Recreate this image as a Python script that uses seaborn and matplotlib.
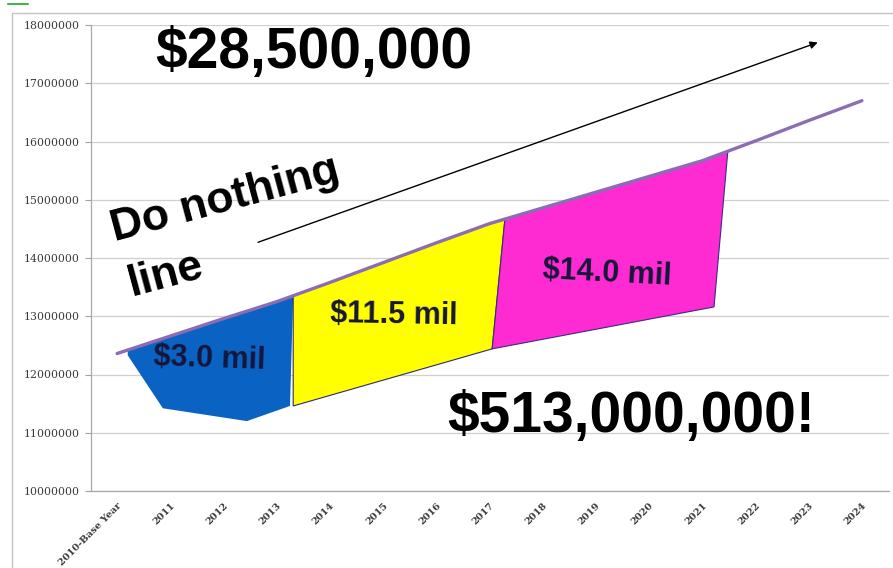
import numpy as np
import pandas as pd
import matplotlib
matplotlib.use("Agg")
import matplotlib.pyplot as plt
import matplotlib.transforms as mtransforms
import seaborn as sns
from matplotlib.patches import Polygon
from matplotlib.lines import Line2D

# ---------------- data ----------------
years = ["2010-Base Year", "2011", "2012", "2013", "2014", "2015", "2016", "2017",
         "2018", "2019", "2020", "2021", "2022", "2023", "2024"]
do_nothing = [12360000, 12660000, 12960000, 13250000, 13580000, 13920000, 14260000,
              14590000, 14860000, 15130000, 15400000, 15670000, 16010000, 16360000,
              16700000]
y_ticks = [10000000, 11000000, 12000000, 13000000, 14000000, 15000000,
           16000000, 17000000, 18000000]

# phase areas: lower boundary points (category position, value); upper edge follows the line
phase1_bottom_x = [0.20, 0.86, 2.44, 3.25]
phase1_bottom_y = [12330000, 11420000, 11200000, 11460000]
phase1_top = [0.20, 3.31]
phase2_bottom_x = [3.31, 7.05]
phase2_bottom_y = [11460000, 12440000]
phase2_top = [3.31, 7.29]
phase3_bottom_x = [7.05, 11.22]
phase3_bottom_y = [12440000, 13160000]
phase3_top = [7.29, 11.48]
phase_labels = ["$3.0 mil", "$11.5 mil", "$14.0 mil"]
phase_colors = ["#0A63C2", "#FFFF00", "#FF2BD2"]

# ---------------- figure ----------------
sns.set_theme(style="white")
plt.rcParams["font.family"] = ["Liberation Sans", "DejaVu Sans"]

W, H = 893, 568
fig = plt.figure(figsize=(W / 100, H / 100), dpi=100)
fig.patch.set_facecolor("white")
ax = fig.add_axes([90.5 / W, 1 - 491 / H, 798 / W, (491 - 25) / H])
ax.set_facecolor("white")

df = pd.DataFrame({"pos": np.arange(len(years)), "value": do_nothing})
xpos = df["pos"].to_numpy(dtype=float)
yval = df["value"].to_numpy(dtype=float)


def line_at(x):
    return float(np.interp(x, xpos, yval))


def area_vertices(bx, by, top):
    verts = list(zip(bx, by))
    xl, xr = top
    verts.append((xr, line_at(xr)))
    inner = [k for k in xpos if xl < k < xr]
    for k in reversed(inner):
        verts.append((k, line_at(k)))
    verts.append((xl, line_at(xl)))
    return verts


phases = [
    (phase1_bottom_x, phase1_bottom_y, phase1_top, "none"),
    (phase2_bottom_x, phase2_bottom_y, phase2_top, "#2b2b6e"),
    (phase3_bottom_x, phase3_bottom_y, phase3_top, "#3b2a8a"),
]
for (bx, by, top, ec), col in zip(phases, phase_colors):
    poly = Polygon(area_vertices(bx, by, top), closed=True, facecolor=col,
                   edgecolor=ec, linewidth=0.8, zorder=2)
    ax.add_patch(poly)

sns.lineplot(data=df, x="pos", y="value", ax=ax, color="#8A6DB5", linewidth=2.4,
             zorder=4, legend=False)

# axes styling
ax.set_xlim(-0.5, len(years) - 0.5)
ax.set_ylim(y_ticks[0], y_ticks[-1])
ax.set_yticks(y_ticks)
ax.set_yticklabels([str(v) for v in y_ticks], fontsize=7.8, color="#3a3a3a",
                   family=["DejaVu Serif"])
ax.set_xticks(xpos)
ax.set_xticklabels(years, rotation=45, ha="right", rotation_mode="anchor",
                   fontsize=7, color="#3a3a3a", fontweight="bold",
                   family=["DejaVu Serif"])
offset = mtransforms.ScaledTranslation(5 / 100, 0, fig.dpi_scale_trans)
for lbl in ax.get_xticklabels():
    lbl.set_transform(lbl.get_transform() + offset)
ax.set_xticks(np.arange(-0.5, len(years)), minor=True)
ax.tick_params(axis="x", which="major", length=0, pad=7)
ax.tick_params(axis="x", which="minor", length=3, color="#a0a0a0", width=0.8,
               direction="out")
ax.tick_params(axis="y", which="major", length=4, color="#a0a0a0", width=0.8,
               pad=4, left=True)
ax.set_xlabel("")
ax.set_ylabel("")
ax.grid(axis="y", color="#cfcfcf", linewidth=0.9)
ax.grid(axis="x", visible=False)
for s in ["top", "right"]:
    ax.spines[s].set_visible(False)
for s in ["left", "bottom"]:
    ax.spines[s].set_color("#a8a8a8")
    ax.spines[s].set_linewidth(0.9)

# annotations
ax.annotate("", xy=(13.17, 17700000), xytext=(2.65, 14270000),
            arrowprops=dict(arrowstyle="-|>", color="black", lw=1.0,
                            mutation_scale=11, shrinkA=0, shrinkB=0), zorder=5)

big = dict(fontsize=41, fontweight="bold", color="black", ha="left", va="baseline",
           zorder=6)
ax.text(0.71, 17270000, "$28,500,000", **big)
ax.text(6.20, 11010000, "$513,000,000!", **big)

side = dict(fontsize=32, fontweight="bold", color="black", ha="left", va="baseline",
            rotation=15, rotation_mode="anchor", zorder=6)
ax.text(-0.05, 14280000, "Do nothing", **side)
ax.text(0.28, 13340000, "line", **side)

small = dict(fontsize=22, fontweight="bold", color="#16163a", ha="left",
             va="baseline", rotation_mode="anchor", zorder=6)
ax.text(0.67, 12160000, phase_labels[0], rotation=-2, **small)
ax.text(4.00, 12900000, phase_labels[1], rotation=-1, **small)
ax.text(7.99, 13650000, phase_labels[2], rotation=-3, **small)

# chart frame
fig.add_artist(Line2D([12 / W, 12 / W], [0, 1 - 13 / H], transform=fig.transFigure,
                      color="#c4c4c4", lw=1.0))
fig.add_artist(Line2D([12 / W, 1], [1 - 13 / H, 1 - 13 / H], transform=fig.transFigure,
                      color="#c4c4c4", lw=1.0))
fig.add_artist(Line2D([8 / W, 28 / W], [1 - 4 / H, 1 - 4 / H], transform=fig.transFigure,
                      color="#4caf50", lw=1.5))

fig.savefig("out.png", dpi=100, facecolor="white")
